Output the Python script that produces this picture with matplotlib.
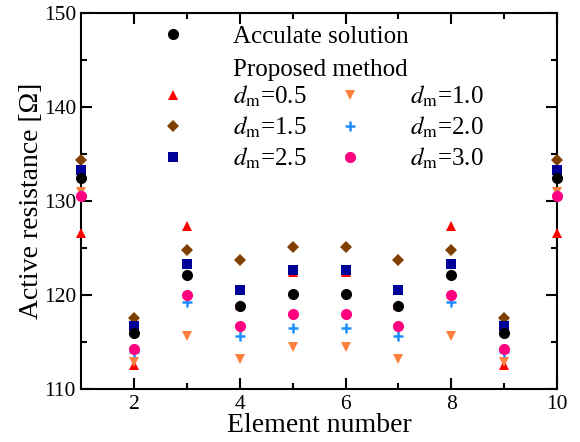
import numpy as np
import matplotlib
matplotlib.use("Agg")
import matplotlib.pyplot as plt
from matplotlib.lines import Line2D

plt.rcParams["font.family"] = ["Liberation Serif", "DejaVu Serif"]
plt.rcParams["mathtext.fontset"] = "stix"

# element numbers and active resistance [Ohm]
elements = [1, 2, 3, 4, 5, 6, 7, 8, 9, 10]
accurate = [132.4, 116.0, 122.1, 118.85, 120.15, 120.15, 118.85, 122.1, 116.0, 132.4]
dm_05 = [126.6, 112.65, 127.4, 118.95, 122.5, 122.5, 118.95, 127.4, 112.65, 126.6]
dm_10 = [131.0, 112.9, 115.7, 113.2, 114.5, 114.5, 113.2, 115.7, 112.9, 131.0]
dm_15 = [134.4, 117.6, 124.85, 123.7, 125.1, 125.1, 123.7, 124.85, 117.6, 134.4]
dm_20 = [130.6, 114.0, 119.3, 115.65, 116.5, 116.5, 115.65, 119.3, 114.0, 130.6]
dm_25 = [133.3, 116.7, 123.3, 120.6, 122.7, 122.7, 120.6, 123.3, 116.7, 133.3]
dm_30 = [130.5, 114.3, 120.0, 116.7, 118.0, 118.0, 116.7, 120.0, 114.3, 130.5]

fig = plt.figure(figsize=(5.8, 4.42), dpi=100)
ax = fig.add_axes([0.1405, 0.1188, 0.8195, 0.8529])

series = [
    (dm_05, "^", "#ff0000", 7.5, r"$d_{\rm m}$=0.5"),
    (dm_15, "D", "#7f3f00", 6.2, r"$d_{\rm m}$=1.5"),
    (dm_25, "s", "#000099", 6.5, r"$d_{\rm m}$=2.5"),
    (dm_10, "v", "#ff7f3f", 7.5, r"$d_{\rm m}$=1.0"),
    (dm_20, "+", "#1e8fff", 7.5, r"$d_{\rm m}$=2.0"),
    (dm_30, "o", "#ff0080", 8, r"$d_{\rm m}$=3.0"),
]

dm_handles = []
for vals, mk, col, ms, lab in series:
    kw = dict(markeredgewidth=1.8) if mk == "+" else dict(markeredgewidth=0)
    h, = ax.plot(elements, vals, linestyle="none", marker=mk, color=col,
                 markersize=ms, clip_on=False, label=lab, zorder=3, **kw)
    dm_handles.append(h)

acc, = ax.plot(elements, accurate, linestyle="none", marker="o", color="black",
               markersize=8, markeredgewidth=0, clip_on=False, zorder=4)

ax.set_xlim(1, 10)
ax.set_ylim(110, 150)
ax.set_xticks([2, 4, 6, 8, 10])
ax.set_xticks([3, 5, 7, 9], minor=True)
ax.set_yticks([110, 120, 130, 140, 150])
ax.set_yticks([115, 125, 135, 145], minor=True)
ax.tick_params(which="both", direction="in", top=True, right=True,
               width=1.5, labelsize=15.5, pad=4)
ax.tick_params(which="major", length=8)
ax.tick_params(which="minor", length=4)
for sp in ax.spines.values():
    sp.set_linewidth(1.5)

ax.set_xlabel("Element number", fontsize=20, labelpad=-1)
ax.set_ylabel("Active resistance [Ω]", fontsize=20, labelpad=0)

blank = Line2D([], [], linestyle="none", marker="none")
leg1 = ax.legend([acc, blank], ["Acculate solution", "Proposed method"],
                 loc="upper left", bbox_to_anchor=(0.14, 0.965), frameon=False,
                 fontsize=18, borderpad=0, borderaxespad=0, handlelength=2,
                 handletextpad=1.4, labelspacing=0.4)
ax.add_artist(leg1)
ax.legend(handles=dm_handles, loc="upper left", bbox_to_anchor=(0.14, 0.812),
          ncol=2, frameon=False, fontsize=18, borderpad=0, borderaxespad=0,
          handlelength=2, handletextpad=1.4, labelspacing=0.23,
          columnspacing=0.75)

fig.savefig("out.png", dpi=100)
